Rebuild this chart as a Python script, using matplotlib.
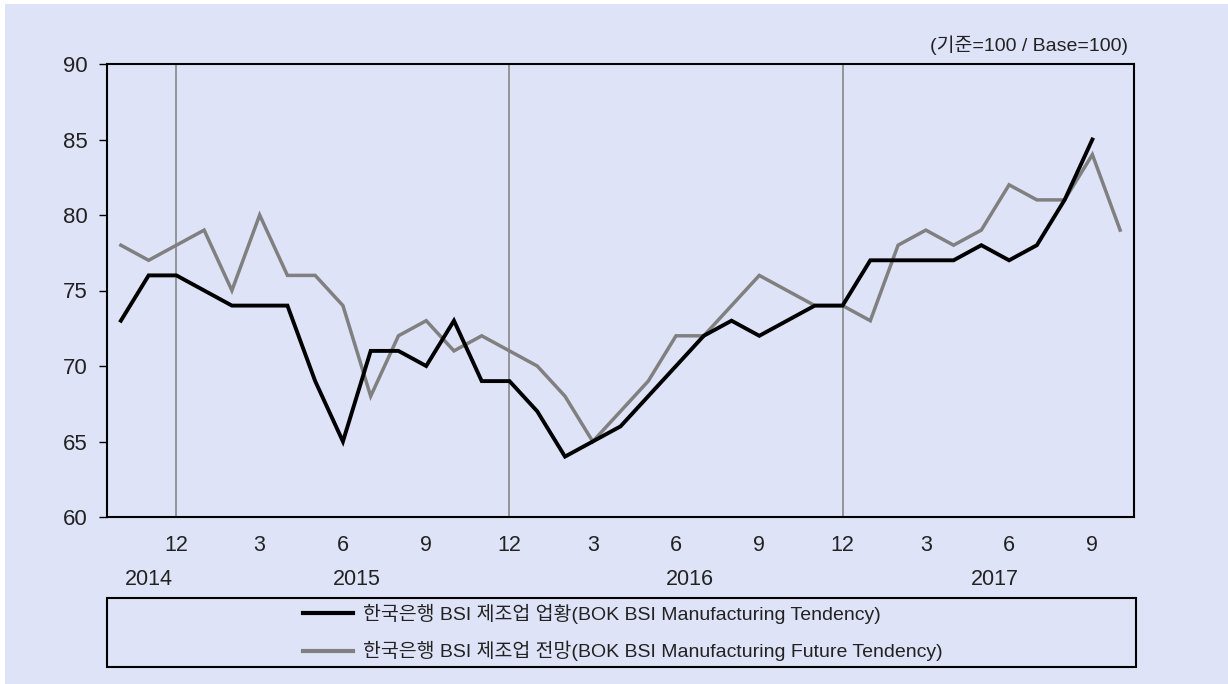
import matplotlib
matplotlib.use("Agg")
import matplotlib.pyplot as plt
from matplotlib.patches import Rectangle
from matplotlib.lines import Line2D
import matplotlib.transforms as mtransforms

plt.rcParams['font.family'] = ['Liberation Sans', 'Noto Sans CJK KR', 'DejaVu Sans']

# Monthly data, Oct 2014 .. Oct 2017
months = [10, 11, 12] + list(range(1, 13)) + list(range(1, 13)) + list(range(1, 11))
tendency = [73, 76, 76,
            75, 74, 74, 74, 69, 65, 71, 71, 70, 73, 69, 69,
            67, 64, 65, 66, 68, 70, 72, 73, 72, 73, 74, 74,
            77, 77, 77, 77, 78, 77, 78, 81, 85]
future = [78, 77, 78,
          79, 75, 80, 76, 76, 74, 68, 72, 73, 71, 72, 71,
          70, 68, 65, 67, 69, 72, 72, 74, 76, 75, 74, 74,
          73, 78, 79, 78, 79, 82, 81, 81, 84, 79]
years = ["2014", "2015", "2016", "2017"]
year_pos = [1.0, 8.5, 20.5, 31.5]
yticks = [60, 65, 70, 75, 80, 85, 90]
label_tendency = "한국은행 BSI 제조업 업황(BOK BSI Manufacturing Tendency)"
label_future = "한국은행 BSI 제조업 전망(BOK BSI Manufacturing Future Tendency)"
unit_text = "(기준=100 / Base=100)"

W, H = 1228, 684
bg = '#dfe3f7'
fig = plt.figure(figsize=(W / 100, H / 100), dpi=100, facecolor='white')
fig.patches.append(Rectangle((5 / W, 0), 1 - 5 / W, 1 - 4 / H, transform=fig.transFigure,
                             facecolor=bg, edgecolor='none', zorder=-10))

ax = fig.add_axes([107 / W, 1 - 517 / H, (1134 - 107) / W, (517 - 64) / H])
ax.set_facecolor(bg)

x_t = list(range(len(tendency)))
x_f = list(range(len(future)))

dec_idx = [i for i, m in enumerate(months) if m == 12]
for d in dec_idx:
    ax.axvline(d, color='#878787', lw=1.2, zorder=1)

ax.plot(x_f, future, color='#808080', lw=2.5, zorder=3, solid_joinstyle='miter')
ax.plot(x_t, tendency, color='black', lw=2.8, zorder=4, solid_joinstyle='miter')

ax.set_xlim(-0.5, 36.5)
ax.set_ylim(60, 90)
ax.set_yticks(yticks)
ax.tick_params(axis='y', direction='out', length=6, width=1, labelsize=16, pad=8, colors='black')
ax.tick_params(axis='x', length=0, labelsize=15.5, pad=13)

tick_idx = [i for i, m in enumerate(months) if m in (3, 6, 9, 12)]
ax.set_xticks(tick_idx)
ax.set_xticklabels([str(months[i]) for i in tick_idx])
for lab in ax.get_xticklabels():
    lab.set_color('#222222')
for lab in ax.get_yticklabels():
    lab.set_color('#222222')

for s in ax.spines.values():
    s.set_color('black')
    s.set_linewidth(1.5)

trans = mtransforms.blended_transform_factory(ax.transData, ax.transAxes)
for yp, yr in zip(year_pos, years):
    ax.text(yp, -0.139, yr, transform=trans, ha='center', va='center', fontsize=15.5, color='#222222')

ax.text(1.0 - 6 / 1027, 1.042, unit_text, transform=ax.transAxes, ha='right', va='center',
        fontsize=14, color='#222222')

# Legend box
fig.patches.append(Rectangle((107 / W, 1 - 667 / H), (1136 - 107) / W, (667 - 598) / H,
                             transform=fig.transFigure, facecolor='none', edgecolor='black',
                             lw=1.5, zorder=5))
handles = [Line2D([0], [0], color='black', lw=3.0), Line2D([0], [0], color='#808080', lw=3.0)]
leg = fig.legend(handles, [label_tendency, label_future], loc='center left',
                 bbox_to_anchor=(287 / W, 1 - 632.5 / H), frameon=False,
                 prop={'family': ['Liberation Sans', 'Noto Sans CJK KR', 'DejaVu Sans'], 'size': 14},
                 handlelength=2.6, handletextpad=0.5, labelspacing=0.9, borderpad=0.3)
for t in leg.get_texts():
    t.set_color('#222222')

fig.savefig('out.png', dpi=100, facecolor='white')
